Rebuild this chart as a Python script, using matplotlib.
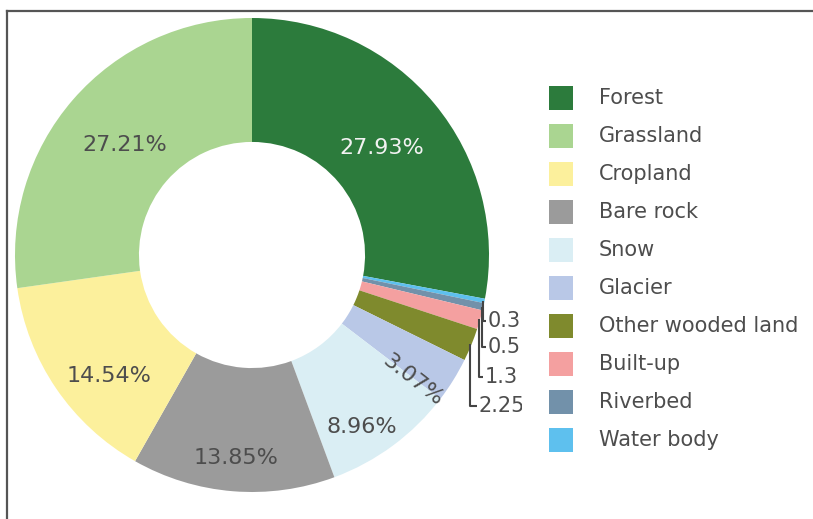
import numpy as np
import matplotlib.pyplot as plt
from matplotlib.patches import Rectangle
from matplotlib.lines import Line2D

plt.rcParams['font.family'] = ['DejaVu Sans']

# land cover shares (%), listed in legend order
categories = ['Forest', 'Grassland', 'Cropland', 'Bare rock', 'Snow', 'Glacier',
              'Other wooded land', 'Built-up', 'Riverbed', 'Water body']
shares = [27.93, 27.21, 14.54, 13.85, 8.96, 3.07, 2.25, 1.3, 0.5, 0.3]
colors = ['#2c7b3c', '#aad591', '#fcf09c', '#9b9b9b', '#daeef4', '#b9c8e7',
          '#7f8a2d', '#f4a0a0', '#7291aa', '#5ec0ee']

# clockwise from 12 o'clock: forest first, then the rest in reverse legend order
pie_order = [0, 9, 8, 7, 6, 5, 4, 3, 2, 1]

W, H = 813, 519
CX, CY, R = 252, 255, 237        # donut centre / radius in pixels
HOLE = 0.477


def px(x, y):
    return (x - CX) / R, (CY - y) / R


fig = plt.figure(figsize=(W / 100, H / 100), dpi=100)
ax = fig.add_axes([0, 0, 522 / W, 1])

vals = [shares[i] for i in pie_order]
cols = [colors[i] for i in pie_order]
wedges, _ = ax.pie(vals, colors=cols, startangle=90, counterclock=False, radius=1,
                   wedgeprops=dict(width=1 - HOLE, linewidth=0))

# pie() resets the limits, so pin them afterwards (1 data unit == R pixels)
ax.set_aspect('auto')
ax.set_xlim((0 - CX) / R, (522 - CX) / R)
ax.set_ylim((CY - H) / R, CY / R)
ax.axis('off')

# inside labels: radial fraction, angle tweak, rotation
inside = {
    'Forest': (0.71, 0, 0),
    'Grassland': (0.71, 0, 0),
    'Cropland': (0.79, 6, 0),
    'Bare rock': (0.86, 0, 0),
    'Snow': (0.86, -4, 0),
    'Glacier': (0.86, -6, -38),
}
# small shares labelled outside: label left edge / centre y in pixels
outside = {
    'Water body': (488, 321),
    'Riverbed': (488, 347),
    'Built-up': (485, 377),
    'Other wooded land': (479, 406),
}

for w, idx in zip(wedges, pie_order):
    name = categories[idx]
    mid = np.deg2rad((w.theta1 + w.theta2) / 2)
    if name in inside:
        rf, dth, rot = inside[name]
        a = mid + np.deg2rad(dth)
        color = '#f2f2f2' if name == 'Forest' else '#4d4d4d'
        ax.text(rf * np.cos(a), rf * np.sin(a), f"{shares[idx]:.2f}%",
                ha='center', va='center', fontsize=16, color=color,
                rotation=rot, clip_on=True)
    else:
        lx, ly = outside[name]
        x0, y0 = np.cos(mid) * 0.995, np.sin(mid) * 0.995
        tx, ty = px(lx - 2, ly)
        ax.plot([x0, x0, tx], [y0, ty, ty], color='#444444', lw=1.5,
                solid_capstyle='butt')
        ax.text(*px(lx, ly), f"{shares[idx]:g}", ha='left', va='center',
                fontsize=15, color='#4d4d4d', clip_on=True)

# legend drawn by hand in pixel positions
for i, (name, c) in enumerate(zip(categories, colors)):
    yc = 97.5 + 38 * i
    fig.add_artist(Rectangle((549 / W, 1 - (yc + 12) / H), 24 / W, 24 / H,
                             facecolor=c, edgecolor='none',
                             transform=fig.transFigure))
    fig.text(599 / W, 1 - yc / H, name, ha='left', va='center',
             fontsize=15, color='#4d4d4d')

# frame along top and left edges
fig.add_artist(Line2D([7 / W, 1], [1 - 11 / H, 1 - 11 / H], color='#555555',
                      lw=1.6, transform=fig.transFigure))
fig.add_artist(Line2D([7 / W, 7 / W], [0, 1 - 11 / H], color='#555555',
                      lw=1.6, transform=fig.transFigure))

fig.savefig('out.png', dpi=100, facecolor='white')
